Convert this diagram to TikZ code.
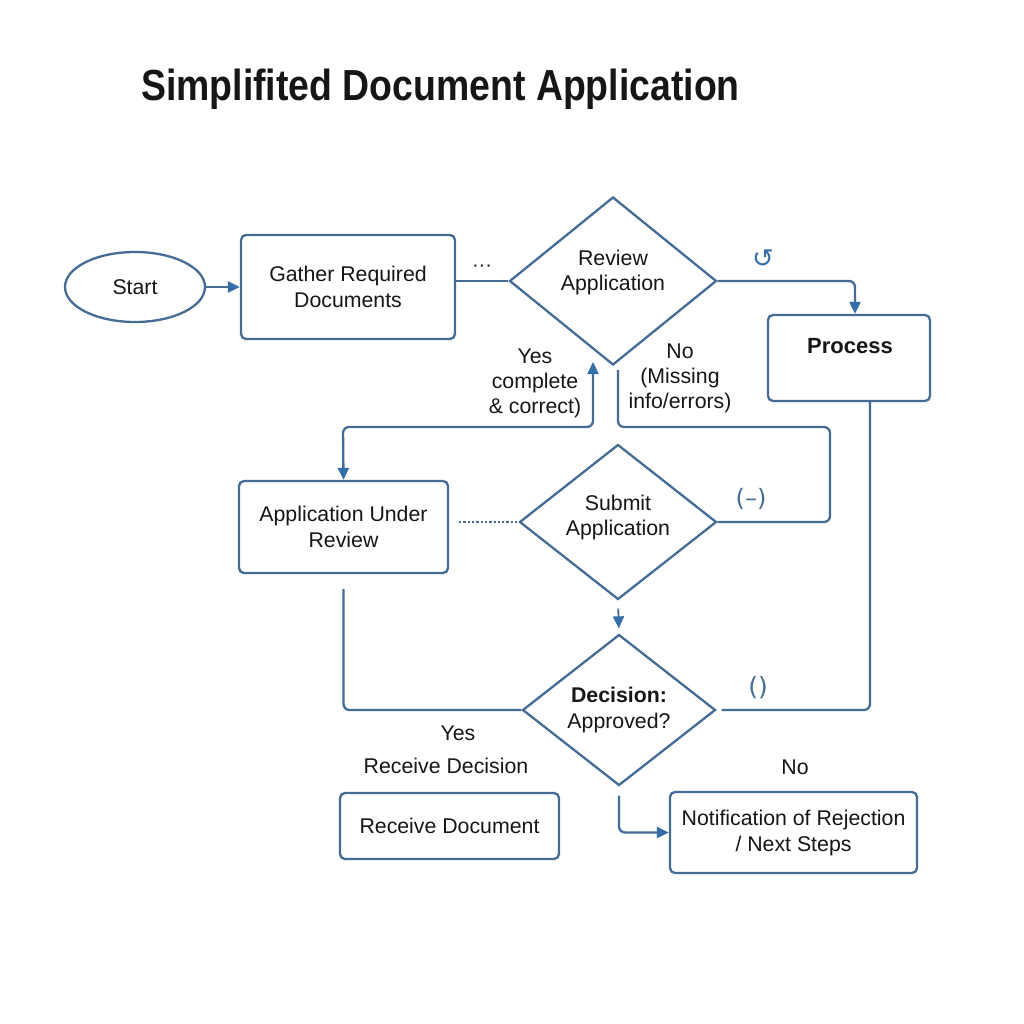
\documentclass[tikz,border=0pt]{standalone}
\usepackage{fontspec}
\setmainfont{Liberation Sans}
\newfontfamily\titlefont[FakeStretch=0.86]{Liberation Sans}
\newfontfamily\symfont{DejaVu Sans}
\usetikzlibrary{shapes.geometric,arrows.meta}
\definecolor{linec}{RGB}{68,108,148}
\definecolor{tipc}{RGB}{52,110,168}
\definecolor{txtc}{RGB}{22,22,22}
\tikzset{
  base/.style={draw=linec, line width=2.3pt, text=txtc, align=center, font=\fontsize{21.3}{26}\selectfont},
  boxnode/.style={base, rectangle, rounded corners=5pt, inner sep=0pt},
  decnode/.style={base, diamond, inner sep=0pt},
  conn/.style={draw=linec, line width=2.3pt, rounded corners=6pt},
  tip/.style={-{Triangle[length=12pt,width=11pt,fill=tipc,color=tipc]}},
  tipboth/.style={{Triangle[length=12pt,width=11pt,fill=tipc,color=tipc]}-{Triangle[length=12pt,width=11pt,fill=tipc,color=tipc]}},
  lbl/.style={text=txtc, align=center, font=\fontsize{21.3}{25}\selectfont, inner sep=0pt},
}
\begin{document}
\begin{tikzpicture}[x=1pt,y=-1pt]
\useasboundingbox[fill=white] (0,0) rectangle (1024,1024);
% title
\node[anchor=west, text=txtc, inner sep=0pt, font=\titlefont\bfseries\fontsize{43.5}{48}\selectfont] (title) at (141,89) {Simplifited Document Application};
% nodes
\node[base, ellipse, minimum width=140pt, minimum height=70pt, inner sep=0pt] (start) at (135,287) {Start};
\node[boxnode, minimum width=214pt, minimum height=104pt] (gather) at (348,287) {Gather Required\\Documents};
\node[decnode, minimum width=207pt, minimum height=168pt] (review) at (613,281) {};
\node[lbl] (reviewtxt) at (613,272) {Review\\Application};
\node[boxnode, minimum width=162pt, minimum height=86pt] (process) at (849,358) {};
\node[lbl, font=\bfseries\fontsize{22}{25}\selectfont] (proctxt) at (850,346) {Process};
\node[boxnode, minimum width=209pt, minimum height=92pt] (app) at (343.5,527) {Application Under\\Review};
\node[decnode, minimum width=197pt, minimum height=155pt] (submit) at (618,522) {};
\node[lbl] (submittxt) at (618,517) {Submit\\Application};
\node[decnode, minimum width=193pt, minimum height=151pt] (decision) at (619,710) {\textbf{Decision:}\\Approved?};
\node[boxnode, minimum width=219pt, minimum height=66pt] (receive) at (449.5,826) {Receive Document};
\node[boxnode, minimum width=247pt, minimum height=81pt] (notif) at (793.5,832.5) {Notification of Rejection\\/ Next Steps};
% labels
\node[lbl] (yeslbl) at (535,383) {Yes\\complete\\\& correct)};
\node[lbl] (nolbl) at (680,378) {No\\(Missing\\info/errors)};
\node[lbl] (yes2) at (458,733) {Yes};
\node[lbl] (recdec) at (446,766) {Receive Decision};
\node[lbl] (no2) at (795,767) {No};
\node[lbl, text=tipc, font=\symfont\fontsize{26}{28}\selectfont] (sym1) at (763,259) {↺};
\node[lbl, text=linec, font=\symfont\fontsize{24}{26}\selectfont] (sym2) at (751,499) {(–)};
\node[lbl, text=linec, font=\symfont\fontsize{25}{26}\selectfont] (sym3) at (758,688) {()};
\node[lbl, font=\fontsize{20}{22}\selectfont] (dots1) at (482,268) {···};
% coordinates
\coordinate (yestip) at (593,362);
\coordinate (yescorner) at (343,427);
\coordinate (nostart) at (618,370);
\coordinate (nocorner) at (830,427);
% connectors
\draw[conn, tip] (start.east) -- (gather.west);
\draw[conn] (gather.east |- review.west) -- (review.west);
\draw[conn, tip] (review.east) -| ([xshift=6pt]process.north);
\draw[conn, tipboth] (yestip) |- (yescorner) -- (app.north);
\draw[conn] (nostart) |- (nocorner) |- (submit.east);
\draw[conn, dotted, line width=2.6pt, shorten <=10pt] (app.east |- submit.west) -- (submit.west);
\draw[conn, tip, line width=1.8pt, shorten <=8pt, shorten >=5pt] (submit.south) -- (decision.north);
\draw[conn, shorten <=15pt] (app.south) |- (decision.west);
\draw[conn, shorten <=5pt] (decision.east) -| ([xshift=21pt]process.south);
\draw[conn, tip, shorten <=9pt] (decision.south) |- (notif.west);
\end{tikzpicture}
\end{document}
